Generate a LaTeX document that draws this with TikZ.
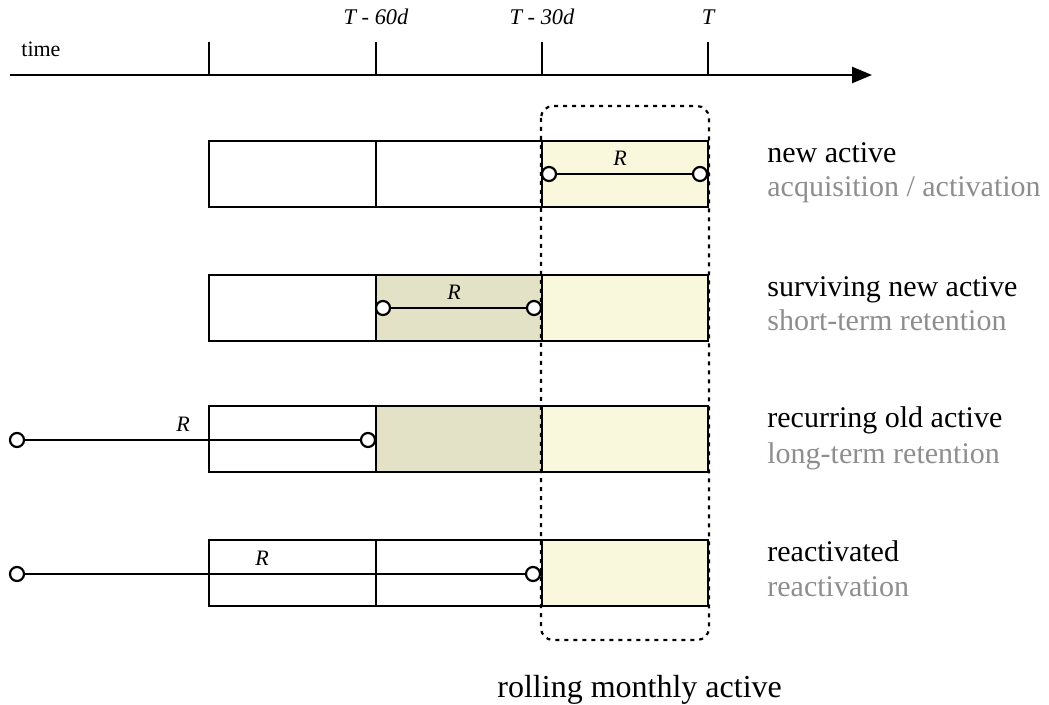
\documentclass[tikz,border=0pt]{standalone}
\usepackage{fontspec}
\setmainfont{Liberation Serif}
\usetikzlibrary{arrows.meta}
\definecolor{newcol}{HTML}{F9F8DC}
\definecolor{oldcol}{HTML}{E3E1C6}
\definecolor{subgray}{HTML}{8E8E8E}
\tikzset{
  cell/.style={draw,line width=1.2pt},
  ring/.style={circle,draw,fill=white,line width=1.1pt,minimum size=7pt,inner sep=0pt},
  span/.style={line width=1.1pt},
  lab/.style={anchor=base west,inner sep=0pt,font=\fontsize{15}{18}\selectfont},
  sub/.style={lab,text=subgray},
  rlab/.style={inner sep=0pt,font=\fontsize{11}{13}\selectfont\itshape},
  tlab/.style={anchor=base,inner sep=0pt,font=\fontsize{11.2}{13}\selectfont\itshape},
  window/.style={line width=1.1pt,dash pattern=on 2pt off 2.5pt,rounded corners=6pt},
}

\begin{document}
\begin{tikzpicture}[x=0.5pt,y=-0.5pt]
        \useasboundingbox (0,0) rectangle (1049,705);
        \coordinate (t0) at (10,75);
        \coordinate (t1) at (872,75);
        \draw[line width=1.3pt,-{Triangle[length=10pt,width=8pt]}] (t0) -- (t1);
        \foreach \x in {209,376,542,708}
            \draw[line width=1.1pt] (\x,42) -- (\x,75);
        \node[anchor=base west,inner sep=0pt,font=\fontsize{11}{13}\selectfont] (time) at (21,57) {time};
        \node[tlab] (t60) at (376,25) {T - 60d};
        \node[tlab] (t30) at (542,25) {T - 30d};
        \node[tlab] (tT) at (708,25) {T};

        \fill[newcol] (542,141) rectangle (708,207);
        \fill[oldcol] (376,275) rectangle (542,340);
        \fill[newcol] (542,275) rectangle (708,340);
        \fill[oldcol] (376,406) rectangle (542,472);
        \fill[newcol] (542,406) rectangle (708,472);
        \fill[newcol] (542,540) rectangle (708,606);
        \foreach \y in {141,275,406,540} {
            \draw[cell] (209,\y) rectangle (708,\y+66);
            \draw[cell] (376,\y) -- (376,\y+66);
            \draw[cell] (542,\y) -- (542,\y+66);
        }
        \draw[window] (541,106) rectangle (709,640);

        \node[ring] (a1) at (549,174) {};
        \node[ring] (b1) at (700,174) {};
        \draw[span] (a1) -- (b1);
        \node[rlab] (r1) at (620,158) {R};
        \node[ring] (a2) at (383,308) {};
        \node[ring] (b2) at (534,308) {};
        \draw[span] (a2) -- (b2);
        \node[rlab] (r2) at (454,292) {R};
        \node[ring] (a3) at (17,440) {};
        \node[ring] (b3) at (368,440) {};
        \draw[span] (a3) -- (b3);
        \node[rlab] (r3) at (183,424) {R};
        \node[ring] (a4) at (17,574) {};
        \node[ring] (b4) at (533,574) {};
        \draw[span] (a4) -- (b4);
        \node[rlab] (r4) at (262,558) {R};

        \node[lab] (n1) at (767,163) {new active};
        \node[sub] (s1) at (767,197) {acquisition / activation};
        \node[lab] (n2) at (767,297) {surviving new active};
        \node[sub] (s2) at (767,331) {short-term retention};
        \node[lab] (n3) at (767,428) {recurring old active};
        \node[sub] (s3) at (767,463) {long-term retention};
        \node[lab] (n4) at (767,561) {reactivated};
        \node[sub] (s4) at (767,596) {reactivation};
        \node[lab,font=\fontsize{16}{19}\selectfont] (roll) at (497,697) {rolling monthly active};
    \end{tikzpicture}
\end{document}
